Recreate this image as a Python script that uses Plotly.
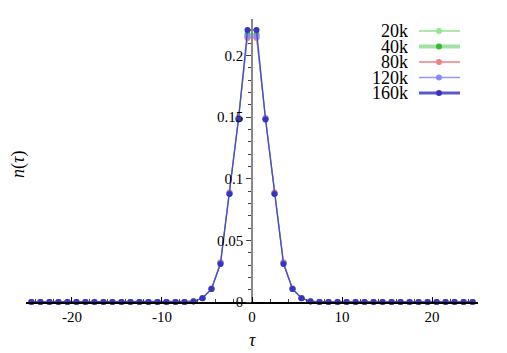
import plotly.graph_objects as go

tau = [-24.5, -23.5, -22.5, -21.5, -20.5, -19.5, -18.5, -17.5, -16.5, -15.5,
       -14.5, -13.5, -12.5, -11.5, -10.5, -9.5, -8.5, -7.5, -6.5, -5.5,
       -4.5, -3.5, -2.5, -1.5, -0.5, 0.5, 1.5, 2.5, 3.5, 4.5,
       5.5, 6.5, 7.5, 8.5, 9.5, 10.5, 11.5, 12.5, 13.5, 14.5,
       15.5, 16.5, 17.5, 18.5, 19.5, 20.5, 21.5, 22.5, 23.5, 24.5]

Z18 = [0.0] * 18  # tails, |tau| >= 7.5

n_20k = Z18 + [0.0006, 0.0032, 0.0110, 0.0320, 0.0885, 0.1490, 0.2145,
               0.2145, 0.1490, 0.0885, 0.0320, 0.0110, 0.0032, 0.0006] + Z18
n_40k = Z18 + [0.0006, 0.0031, 0.0108, 0.0316, 0.0880, 0.1488, 0.2172,
               0.2172, 0.1488, 0.0880, 0.0316, 0.0108, 0.0031, 0.0006] + Z18
n_80k = Z18 + [0.0006, 0.0032, 0.0110, 0.0322, 0.0887, 0.1492, 0.2140,
               0.2140, 0.1492, 0.0887, 0.0322, 0.0110, 0.0032, 0.0006] + Z18
n_120k = Z18 + [0.0006, 0.0031, 0.0108, 0.0315, 0.0880, 0.1486, 0.2155,
                0.2155, 0.1486, 0.0880, 0.0315, 0.0108, 0.0031, 0.0006] + Z18
n_160k = Z18 + [0.0005, 0.0030, 0.0105, 0.0308, 0.0876, 0.1480, 0.2206,
                0.2206, 0.1480, 0.0876, 0.0308, 0.0105, 0.0030, 0.0005] + Z18

names = ["20k", "40k", "80k", "120k", "160k"]
series = [n_20k, n_40k, n_80k, n_120k, n_160k]
line_colors = ["rgba(130,225,130,0.9)", "rgba(90,200,90,0.55)", "rgba(240,150,150,0.9)",
               "rgba(140,140,240,0.9)", "rgba(60,60,200,0.85)"]
line_widths = [1.0, 1.5, 1.0, 1.0, 1.3]
legend_line_widths = [1.5, 4, 2, 1.5, 3]
marker_colors = ["#90e890", "#33bb33", "#f08080", "#8888ff", "#3535c0"]

xticks = [-20, -10, 0, 10, 20]
xticktext = ["-20", "-10", "0", "10", "20"]

fig = go.Figure()
for nm, ys, lc, lw, mc in zip(names, series, line_colors, line_widths, marker_colors):
    fig.add_trace(go.Scatter(
        x=tau, y=ys, mode="lines+markers", name=nm,
        line=dict(color=lc, width=lw),
        marker=dict(color=mc, size=6),
        cliponaxis=False, showlegend=False,
    ))

serif = "Liberation Serif"
W, H = 507, 353
L, R, T, B = 26, 29, 19, 51
pw, ph = W - L - R, H - T - B

fig.update_layout(
    width=W, height=H,
    margin=dict(l=L, r=R, t=T, b=B),
    paper_bgcolor="white", plot_bgcolor="white",
    font=dict(family=serif, size=15, color="black"),
    xaxis=dict(
        range=[-25.1, 25.1], showgrid=False, zeroline=False,
        showline=True, linecolor="black", linewidth=1.5,
        ticks="inside", ticklen=5, tickcolor="black", tickwidth=1,
        tickvals=xticks, ticktext=xticktext,
        tickfont=dict(family=serif, size=15),
        minor=dict(dtick=2, ticks="inside", ticklen=3, tickcolor="#444", showgrid=False),
    ),
    yaxis=dict(
        range=[0, 0.2295], showgrid=False, zeroline=False,
        anchor="free", position=0.5,
        showline=True, linecolor="#888", linewidth=1.5,
        ticks="outside", ticklen=5, tickcolor="#444", tickwidth=1,
        dtick=0.05, tickfont=dict(family=serif, size=15),
        minor=dict(dtick=0.01, ticks="outside", ticklen=3, tickcolor="#444", showgrid=False),
    ),
)

# axis titles
fig.add_annotation(text="<i>τ</i>", xref="paper", yref="paper",
                   x=(252 - L) / pw, y=(H - B - 340) / ph, showarrow=False,
                   font=dict(family=serif, size=18, color="black"),
                   xanchor="center", yanchor="middle")
fig.add_annotation(text="<i>n</i>(<i>τ</i>)", xref="paper", yref="paper",
                   x=(18 - L) / pw, y=(H - B - 165) / ph, showarrow=False,
                   font=dict(family=serif, size=18, color="black"), textangle=-90,
                   xanchor="center", yanchor="middle")

# custom legend (labels to the left of the keys)
row_y = [31, 46.5, 62, 77.5, 93]
for nm, lc, lw, mc, py in zip(names, line_colors, legend_line_widths, marker_colors, row_y):
    yp = (H - B - py) / ph
    fig.add_annotation(text=nm, xref="paper", yref="paper",
                       x=(410 - L) / pw, y=yp, showarrow=False,
                       xanchor="right", yanchor="middle", height=15, valign="middle",
                       font=dict(family=serif, size=18, color="black"))
    fig.add_shape(type="line", xref="paper", yref="paper",
                  x0=(419 - L) / pw, x1=(460 - L) / pw, y0=yp, y1=yp,
                  line=dict(color=lc, width=lw))
    fig.add_shape(type="circle", xref="paper", yref="paper",
                  xsizemode="pixel", ysizemode="pixel",
                  xanchor=(439 - L) / pw, yanchor=yp,
                  x0=-3, x1=3, y0=-3, y1=3,
                  fillcolor=mc, line=dict(width=0))

fig.write_html("out.html", config={"displayModeBar": False},
               post_script="document.body.style.margin='0';document.body.style.overflow='hidden';")
